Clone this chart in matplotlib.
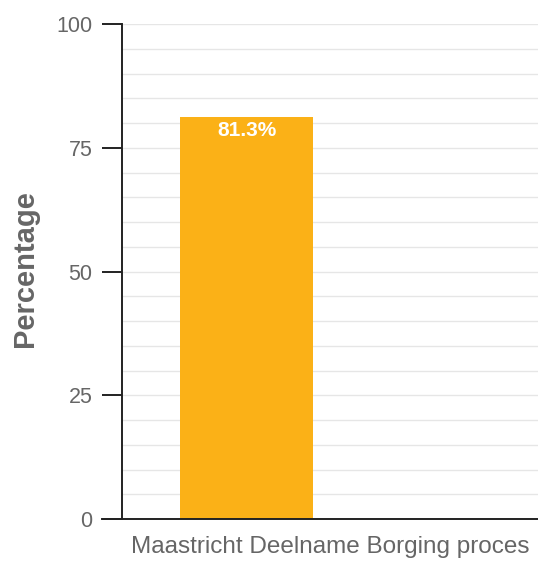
import matplotlib
matplotlib.use("Agg")
import matplotlib.pyplot as plt
from matplotlib.lines import Line2D
import numpy as np

categories = ["Maastricht Deelname Borging proces"]
values = [81.3]
y_ticks = [0, 25, 50, 75, 100]
bar_offset = -0.2
bar_width = 0.32

plt.rcParams['font.family'] = ['Liberation Sans', 'DejaVu Sans']

fig = plt.figure(figsize=(5.38, 5.61), dpi=100)
ax = fig.add_axes([122/538, 42/561, 416/538, 495/561])

x = np.arange(len(categories))
bars = ax.bar(x + bar_offset, values, width=bar_width, color="#FBB117", zorder=3)
for b, v in zip(bars, values):
    ax.text(b.get_x() + b.get_width()/2, v - 0.9, f"{v:.1f}%", ha="center", va="top",
            color="white", fontsize=15, fontweight="bold", zorder=4)

ax.set_xlim(-0.5, 0.5)
ax.set_ylim(0, 100)
ax.set_yticks(y_ticks)
ax.set_yticks(np.arange(0, 101, 5), minor=True)
ax.yaxis.grid(True, which="both", color="#e6e6e6", linewidth=1, zorder=0)
ax.set_axisbelow(True)
ax.set_xticks(x)
ax.set_xticklabels(categories, fontsize=17.5, color="#666666")
ax.tick_params(axis="x", length=0, pad=12)
ax.tick_params(axis="y", which="major", length=14.4, width=1.4, color="#222222",
               labelsize=15.5, labelcolor="#666666", pad=7)
ax.tick_params(axis="y", which="minor", length=0)

for s in ["top", "right", "bottom"]:
    ax.spines[s].set_visible(False)
ax.spines["left"].set_color("#222222")
ax.spines["left"].set_linewidth(1.4)
ax.add_line(Line2D([-20/416, 1], [0, 0], transform=ax.transAxes, color="#222222",
                   linewidth=1.4, clip_on=False, zorder=5))

ax.set_ylabel("Percentage", fontsize=21, fontweight="bold", color="#666666")
ax.yaxis.set_label_coords(-0.2, 0.506)

fig.savefig("out.png", dpi=100)
